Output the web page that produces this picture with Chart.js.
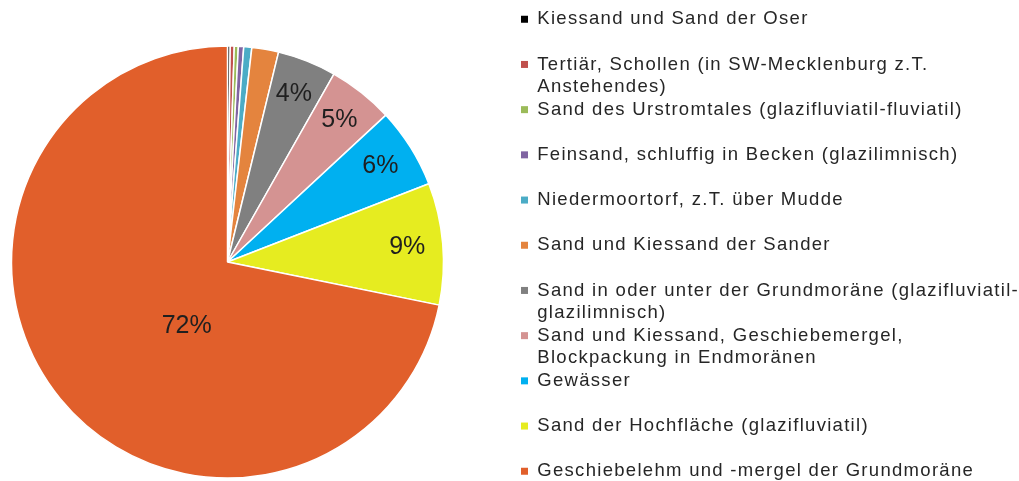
<!DOCTYPE html>
<html lang="de">
<head>
<meta charset="UTF-8" />
<title>Anteile der Substrate</title>
<script src="https://cdn.jsdelivr.net/npm/chart.js"></script>
<style>
  html, body { margin: 0; padding: 0; background: #ffffff; overflow: hidden; width: 1019px; height: 481px; }
  /* Zeichenfläche etwas größer als das Fenster, damit Kreis und Legende wie im Original sitzen */
  #box { position: absolute; left: -66px; top: 0; width: 1095px; height: 514px; }
</style>
</head>
<body>
<div id="box"><canvas id="kreis"></canvas></div>
<script>
// Legendentexte (zweite Zeile leer, wenn nicht umbrochen)
const kategorien = [
  ["Kiessand und Sand der Oser", ""],
  ["Tertiär, Schollen (in SW-Mecklenburg z.T.", "Anstehendes)"],
  ["Sand des Urstromtales (glazifluviatil-fluviatil)", ""],
  ["Feinsand, schluffig in Becken (glazilimnisch)", ""],
  ["Niedermoortorf, z.T. über Mudde", ""],
  ["Sand und Kiessand der Sander", ""],
  ["Sand in oder unter der Grundmoräne (glazifluviatil-", "glazilimnisch)"],
  ["Sand und Kiessand, Geschiebemergel,", "Blockpackung in Endmoränen"],
  ["Gewässer", ""],
  ["Sand der Hochfläche (glazifluviatil)", ""],
  ["Geschiebelehm und -mergel der Grundmoräne", ""]
];
// Anteile in %
const anteile = [0.2, 0.3, 0.3, 0.4, 0.6, 2.0, 4.4, 4.9, 6.0, 9.1, 71.8];
const farben = [
  "#000000", "#c0504d", "#9bbb59", "#8064a2", "#4bacc6", "#e4843e",
  "#808080", "#d49392", "#00b0f0", "#e6ec20", "#e15f2b"
];

const sperrung = {
  id: "sperrung",
  beforeLayout(chart) { chart.ctx.letterSpacing = "1.3px"; },
  beforeDraw(chart) { chart.ctx.letterSpacing = "1.3px"; }
};

const prozentLabels = {
  id: "prozentLabels",
  afterDatasetsDraw(chart) {
    const ctx = chart.ctx;
    const meta = chart.getDatasetMeta(0);
    const werte = chart.data.datasets[0].data;
    const summe = werte.reduce((a, b) => a + b, 0);
    ctx.save();
    ctx.letterSpacing = "0px";
    ctx.font = '25px "Liberation Sans", Arial, sans-serif';
    ctx.fillStyle = "#1f1f1f";
    ctx.textAlign = "center";
    ctx.textBaseline = "middle";
    meta.data.forEach((arc, i) => {
      const p = Math.round(werte[i] / summe * 100);
      if (p < 4) return;
      const { x, y, startAngle, endAngle, outerRadius } =
        arc.getProps(["x", "y", "startAngle", "endAngle", "outerRadius"], true);
      const gross = werte[i] / summe > 0.5;
      const a = startAngle + (endAngle - startAngle) * (gross ? 0.43 : 0.5);
      const r = outerRadius * (gross ? 0.35 : 0.835);
      ctx.fillText(p + "%", x + r * Math.cos(a), y + r * Math.sin(a));
    });
    ctx.restore();
  }
};

new Chart(document.getElementById("kreis"), {
  type: "pie",
  data: {
    labels: kategorien,
    datasets: [{
      data: anteile,
      backgroundColor: farben,
      borderColor: "#ffffff",
      borderWidth: 1.5,
      radius: 216
    }]
  },
  options: {
    responsive: true,
    maintainAspectRatio: false,
    animation: false,
    layout: { padding: { top: 10 } },
    plugins: {
      legend: {
        position: "right",
        align: "start",
        labels: {
          boxWidth: 7,
          boxHeight: 7,
          padding: 0,
          color: "#262626",
          font: { family: '"Liberation Sans", Arial, sans-serif', size: 18.5, lineHeight: "22.6px" },
          generateLabels(chart) {
            const items = Chart.overrides.pie.plugins.legend.labels.generateLabels(chart);
            return items.map(it => ({ ...it, lineWidth: 0 }));
          }
        }
      },
      tooltip: { enabled: false }
    }
  },
  plugins: [sperrung, prozentLabels]
});
</script>
</body>
</html>
